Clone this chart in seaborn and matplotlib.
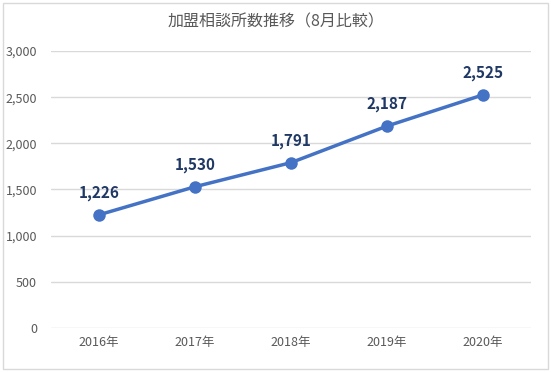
import matplotlib
matplotlib.use('Agg')
import matplotlib.pyplot as plt
import seaborn as sns
import pandas as pd
from matplotlib.patches import Rectangle

#---- Data ----#
years = ['2016年', '2017年', '2018年', '2019年', '2020年']
counts = [1226, 1530, 1791, 2187, 2525]
yticks = [0, 500, 1000, 1500, 2000, 2500, 3000]
title = '加盟相談所数推移（8月比較）'

df = pd.DataFrame({'year': years, 'count': counts})

sns.set_theme(style='white')
plt.rcParams['font.family'] = ['Noto Sans CJK JP', 'DejaVu Sans']

fig = plt.figure(figsize=(5.51, 3.72), dpi=100)
ax = fig.add_axes([0.0926, 0.1183, 0.8711, 0.7446])

sns.lineplot(data=df, x='year', y='count', ax=ax, color='#4472C4',
             linewidth=2.5, marker='o', markersize=9, markeredgewidth=0)

#---- Data labels ----#
for i, v in enumerate(counts):
    ax.annotate(f'{v:,}', (i, v), xytext=(0, 10), textcoords='offset points',
                ha='center', va='bottom', fontsize=11, fontweight='bold',
                color='#203864')

ax.set_xlim(-0.5, len(years) - 0.5)
ax.set_ylim(0, 3000)
ax.set_yticks(yticks)
ax.set_yticklabels([f'{t:,}' for t in yticks])
ax.grid(axis='y', color='#D9D9D9', linewidth=1)
ax.set_axisbelow(True)
for s in ax.spines.values():
    s.set_visible(False)
ax.tick_params(axis='both', length=0, labelsize=9, labelcolor='#595959')
ax.tick_params(axis='y', pad=10)
ax.tick_params(axis='x', pad=6)
ax.set_xlabel('')
ax.set_ylabel('')

fig.text(0.5, 0.94, title, ha='center', va='center', fontsize=11.5, color='#595959')
fig.patches.append(Rectangle((0.005, 0.008), 0.99, 0.984, transform=fig.transFigure,
                             fill=False, edgecolor='#D9D9D9', linewidth=1))

fig.savefig('out.png', dpi=100)
